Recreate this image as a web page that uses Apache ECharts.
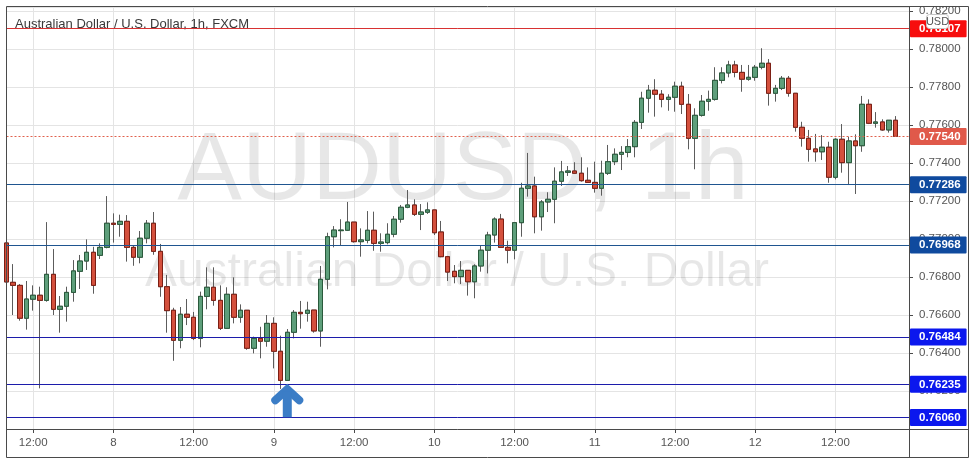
<!DOCTYPE html>
<html><head><meta charset="utf-8">
<script src="https://cdn.jsdelivr.net/npm/echarts@6/dist/echarts.min.js"></script>
<style>html,body{margin:0;padding:0;background:#fff}#c{width:975px;height:464px}</style>
</head><body><div id="c"></div>
<script>
// hourly candles, hour index counted from day 7 00:00 (first candle = hour 8)
const firstHour = 8, lastHour = 143;
const xTickHours = [12, 24, 36, 48, 60, 72, 84, 96, 108, 120, 132];
const xTickLabels = ['12:00', '8', '12:00', '9', '12:00', '10', '12:00', '11', '12:00', '12', '12:00'];

const openP = [0.76979,0.76772,0.76756,0.76583,0.76683,0.76704,0.76677,0.76814,0.76630,0.76646,0.76719,0.76830,0.76884,0.76930,0.76914,0.76956,0.77083,0.77077,0.77093,0.76956,0.76904,0.77004,0.77083,0.76935,0.76749,0.76625,0.76467,0.76604,0.76588,0.76477,0.76698,0.76746,0.76677,0.76530,0.76709,0.76588,0.76625,0.76425,0.76477,0.76462,0.76556,0.76409,0.76256,0.76509,0.76614,0.76609,0.76626,0.76516,0.76788,0.77012,0.77044,0.77046,0.77089,0.76986,0.76993,0.77046,0.76977,0.76981,0.77025,0.77104,0.77167,0.77179,0.77130,0.77141,0.77153,0.77037,0.76907,0.76830,0.76802,0.76835,0.76775,0.76858,0.76941,0.77021,0.77105,0.76956,0.76941,0.77086,0.77267,0.77279,0.77117,0.77195,0.77209,0.77304,0.77351,0.77358,0.77346,0.77309,0.77298,0.77267,0.77346,0.77407,0.77446,0.77456,0.77486,0.77614,0.77741,0.77783,0.77762,0.77735,0.77746,0.77804,0.77709,0.77530,0.77651,0.77725,0.77735,0.77835,0.77874,0.77916,0.77877,0.77841,0.77851,0.77904,0.77925,0.77767,0.77793,0.77846,0.77767,0.77588,0.77530,0.77474,0.77459,0.77483,0.77325,0.77525,0.77402,0.77516,0.77491,0.77709,0.77609,0.77616,0.77574,0.77625];
const closeP = [0.76774,0.76756,0.76583,0.76684,0.76704,0.76677,0.76814,0.76630,0.76646,0.76719,0.76832,0.76884,0.76930,0.76756,0.76956,0.77083,0.77077,0.77093,0.76956,0.76904,0.77004,0.77083,0.76935,0.76749,0.76623,0.76467,0.76604,0.76588,0.76477,0.76698,0.76746,0.76677,0.76530,0.76709,0.76588,0.76625,0.76425,0.76477,0.76462,0.76556,0.76409,0.76256,0.76509,0.76614,0.76607,0.76625,0.76516,0.76788,0.77012,0.77047,0.77047,0.77089,0.76986,0.76995,0.77046,0.76977,0.76984,0.77025,0.77104,0.77167,0.77179,0.77130,0.77142,0.77153,0.77033,0.76907,0.76826,0.76802,0.76835,0.76775,0.76858,0.76941,0.77021,0.77105,0.76956,0.76941,0.77086,0.77267,0.77279,0.77117,0.77195,0.77209,0.77304,0.77353,0.77358,0.77346,0.77307,0.77298,0.77267,0.77346,0.77407,0.77446,0.77456,0.77486,0.77614,0.77741,0.77783,0.77762,0.77735,0.77746,0.77804,0.77709,0.77530,0.77651,0.77725,0.77735,0.77835,0.77874,0.77916,0.77877,0.77841,0.77851,0.77904,0.77925,0.77767,0.77793,0.77846,0.77767,0.77588,0.77530,0.77472,0.77459,0.77483,0.77325,0.77525,0.77402,0.77516,0.77491,0.77709,0.77609,0.77616,0.77574,0.77625,0.77540];
const lowP = [0.76763,0.76600,0.76570,0.76523,0.76623,0.76214,0.76670,0.76600,0.76507,0.76565,0.76670,0.76737,0.76837,0.76712,0.76895,0.76951,0.76981,0.77012,0.76881,0.76859,0.76872,0.76977,0.76917,0.76696,0.76507,0.76359,0.76425,0.76547,0.76468,0.76430,0.76630,0.76649,0.76521,0.76530,0.76556,0.76559,0.76417,0.76398,0.76372,0.76433,0.76319,0.76211,0.76253,0.76477,0.76528,0.76565,0.76507,0.76433,0.76735,0.76956,0.76968,0.77042,0.76981,0.76907,0.76977,0.76938,0.76933,0.76972,0.77009,0.77086,0.77162,0.77121,0.77047,0.77132,0.77021,0.76904,0.76779,0.76767,0.76763,0.76702,0.76688,0.76828,0.76819,0.76981,0.76956,0.76872,0.76893,0.77012,0.77223,0.77030,0.77044,0.77142,0.77083,0.77279,0.77332,0.77342,0.77302,0.77296,0.77244,0.77228,0.77337,0.77389,0.77363,0.77430,0.77430,0.77579,0.77665,0.77644,0.77693,0.77675,0.77670,0.77658,0.77472,0.77367,0.77644,0.77675,0.77728,0.77819,0.77851,0.77851,0.77775,0.77833,0.77833,0.77893,0.77702,0.77723,0.77784,0.77749,0.77565,0.77486,0.77407,0.77407,0.77416,0.77296,0.77314,0.77349,0.77284,0.77237,0.77459,0.77605,0.77586,0.77570,0.77560,0.77540];
const highP = [0.76995,0.76868,0.76763,0.76779,0.76756,0.76749,0.77089,0.76947,0.76700,0.76749,0.76889,0.76916,0.76998,0.76959,0.76977,0.77226,0.77135,0.77128,0.77126,0.76968,0.77042,0.77100,0.77142,0.76974,0.76811,0.76638,0.76642,0.76684,0.76616,0.76723,0.76851,0.76851,0.76756,0.76746,0.76798,0.76656,0.76625,0.76486,0.76538,0.76600,0.76588,0.76491,0.76526,0.76626,0.76674,0.76670,0.76626,0.76858,0.77033,0.77068,0.77104,0.77195,0.77089,0.77056,0.77147,0.77144,0.77030,0.77083,0.77121,0.77179,0.77258,0.77209,0.77184,0.77193,0.77153,0.77095,0.76911,0.76863,0.76884,0.76835,0.76867,0.76968,0.77038,0.77114,0.77132,0.76991,0.77086,0.77296,0.77453,0.77328,0.77205,0.77246,0.77377,0.77411,0.77384,0.77404,0.77430,0.77377,0.77407,0.77412,0.77495,0.77477,0.77489,0.77526,0.77626,0.77775,0.77811,0.77841,0.77784,0.77762,0.77828,0.77828,0.77763,0.77688,0.77758,0.77781,0.77904,0.77904,0.77938,0.77938,0.77916,0.77916,0.77916,0.78004,0.77947,0.77811,0.77858,0.77858,0.77767,0.77617,0.77574,0.77553,0.77547,0.77512,0.77530,0.77605,0.77538,0.77551,0.77753,0.77735,0.77668,0.77630,0.77625,0.77647];

const resistanceLevel = [0.78107];
const midLevels = [0.77286, 0.76968];
const supportLevels = [0.76484, 0.76235, 0.76060];
const lastPrice = 0.77540;
const yMin = 0.76, yMax = 0.782211, yStep = 0.002;
const arrowHour = 50, arrowTipPrice = 0.76225;

const FONT = '"Liberation Sans", Arial, sans-serif';
const hourCats = [];
for (let h = firstHour; h <= lastHour; h++) hourCats.push(String(h));
const tickSet = new Set(xTickHours.map(String));
const isTick = (i, v) => tickSet.has(String(v));

const candleData = openP.map((o, i) => [o, closeP[i], lowP[i], highP[i]]);
const bodyData = openP.map((o, i) => [o, closeP[i], Math.min(o, closeP[i]), Math.max(o, closeP[i])]);

function level(v, lineColor, tagColor, type) {
  return {
    yAxis: v,
    lineStyle: { color: lineColor, width: 1, type: type || 'solid' },
    label: {
      show: true, position: 'end', distance: 1,
      formatter: v.toFixed(5),
      backgroundColor: tagColor, color: '#fff', fontWeight: 'bold',
      fontSize: 11.5, fontFamily: FONT, padding: [3, 6, 2, 9], borderRadius: 1
    }
  };
}
const markData = [].concat(
  resistanceLevel.map(v => level(v, '#d83232', '#f70d0d')),
  midLevels.map(v => level(v, '#1f5590', '#0f4a9e')),
  supportLevels.map(v => level(v, '#1c1cab', '#0b17ee')),
  [level(lastPrice, '#e0604c', '#e0594a', [2, 2])]
);

const chart = echarts.init(document.getElementById('c'));
chart.setOption({
  animation: false,
  backgroundColor: '#ffffff',
  textStyle: { fontFamily: FONT },
  grid: { left: 6.5, right: 66, top: 7, bottom: 35 },
  xAxis: {
    type: 'category', data: hourCats, boundaryGap: false,
    axisLine: { show: true, lineStyle: { color: '#4a4a4a' } },
    axisTick: { show: true, interval: isTick, length: 4, lineStyle: { color: '#4a4a4a' } },
    axisLabel: { interval: isTick, color: '#555', fontSize: 11.5, margin: 8,
      formatter: v => xTickLabels[xTickHours.indexOf(Number(v))] },
    splitLine: { show: true, interval: isTick, lineStyle: { color: '#e4e4e4' } }
  },
  yAxis: {
    type: 'value', position: 'right', min: yMin, max: yMax, interval: yStep, scale: true,
    axisLine: { show: true, lineStyle: { color: '#4a4a4a' } },
    axisTick: { show: true, length: 4, lineStyle: { color: '#4a4a4a' } },
    axisLabel: { color: '#555', fontSize: 11.5, margin: 10, showMinLabel: false, showMaxLabel: false,
      formatter: v => v.toFixed(5) },
    splitLine: { show: true, lineStyle: { color: '#e4e4e4' } }
  },
  series: [
    {
      type: 'candlestick', name: 'wick', data: candleData, barWidth: 5, z: 2, silent: true,
      itemStyle: { color: 'rgba(0,0,0,0)', color0: 'rgba(0,0,0,0)', borderColor: '#5c5c5c',
        borderColor0: '#5c5c5c', borderColorDoji: '#5c5c5c', borderWidth: 1 }
    },
    {
      type: 'candlestick', name: 'body', data: bodyData, barWidth: 5, z: 3, silent: true,
      itemStyle: { color: '#5e9f7b', color0: '#d4503d', borderColor: '#2a5a3c',
        borderColor0: '#7c1f14', borderColorDoji: '#7c1f14', borderWidth: 1 },
      markLine: { symbol: 'none', silent: true, animation: false, precision: 5, data: markData }
    }
  ],
  graphic: [
    { id: 'wm1', type: 'text', z: 1, silent: true, x: 463, y: 172,
      style: { text: 'AUDUSD, 1h', font: '97px ' + FONT, fill: 'rgba(0,0,0,0.095)', align: 'center', verticalAlign: 'middle' } },
    { id: 'wm2', type: 'text', z: 1, silent: true, x: 457, y: 273,
      style: { text: 'Australian Dollar / U.S. Dollar', font: '48px ' + FONT, fill: 'rgba(0,0,0,0.095)', align: 'center', verticalAlign: 'middle' } },
    { id: 'title', type: 'text', z: 1, silent: true, x: 15, y: 24,
      style: { text: 'Australian Dollar / U.S. Dollar, 1h, FXCM', font: '13px ' + FONT, fill: '#3a3a3a', align: 'left', verticalAlign: 'middle' } },
    { id: 'frame', type: 'rect', z: 50, silent: true, shape: { x: 6.5, y: 6.5, width: 962, height: 451 },
      style: { fill: 'none', stroke: '#4a4a4a', lineWidth: 1 } },
    { id: 'sepH', type: 'line', z: 50, silent: true, shape: { x1: 909, y1: 429.5, x2: 968.5, y2: 429.5 }, style: { stroke: '#4a4a4a', lineWidth: 1 } },
    { id: 'sepV', type: 'line', z: 50, silent: true, shape: { x1: 909.5, y1: 429, x2: 909.5, y2: 457 }, style: { stroke: '#4a4a4a', lineWidth: 1 } },
    { id: 'usdBox', type: 'rect', z: 60, silent: true, shape: { x: 926.5, y: 14.5, width: 22, height: 14, r: 3 },
      style: { fill: '#fff', stroke: '#c4c4c4', lineWidth: 1 } },
    { id: 'usdText', type: 'text', z: 61, silent: true, x: 937.5, y: 22,
      style: { text: 'USD', font: '11px ' + FONT, fill: '#555', align: 'center', verticalAlign: 'middle' } }
  ]
});

// arrow annotation placed through the chart's own scales
const tip = chart.convertToPixel({ gridIndex: 0 }, [hourCats.indexOf(String(arrowHour)), arrowTipPrice]);
const tx = tip[0], ty = tip[1];
chart.setOption({
  graphic: [
    { id: 'arrowHead', type: 'polyline', z: 40, silent: true,
      shape: { points: [[tx - 12, ty + 14], [tx, ty + 3], [tx + 12, ty + 14]] },
      style: { stroke: '#3b7dc6', lineWidth: 8, lineCap: 'round', lineJoin: 'miter', fill: null } },
    { id: 'arrowShaft', type: 'line', z: 40, silent: true,
      shape: { x1: tx, y1: ty + 5, x2: tx, y2: ty + 31 },
      style: { stroke: '#3b7dc6', lineWidth: 9, lineCap: 'butt' } }
  ]
});
</script>
</body></html>
